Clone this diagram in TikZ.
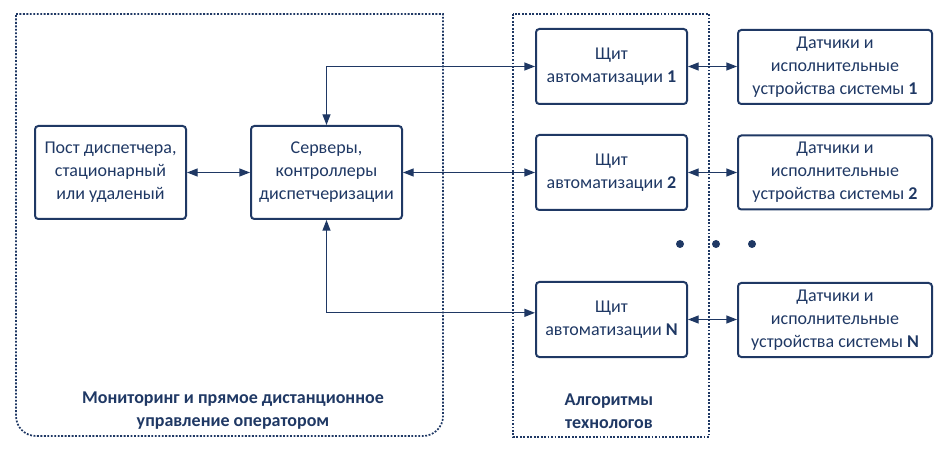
\documentclass[tikz,border=0pt]{standalone}
\usepackage{fontspec}
\setmainfont{Carlito}
\usepackage{xcolor}
\usepackage{tikz}
\definecolor{navy}{RGB}{31,56,100}
\tikzstyle{box} = [draw=navy, line width=1.5pt, rounded corners=2.5pt, align=center, text=navy, minimum width=113.25pt, minimum height=69.75pt]
\tikzstyle{shield} = [box, minimum height=56.25pt]
\tikzstyle{sensor} = [box, minimum width=145.5pt, minimum height=55.5pt]
\tikzstyle{zone} = [draw=navy, line width=1.3pt, dash pattern=on 1.4pt off 1.2pt]
\tikzstyle{link} = [draw=navy, line width=1pt]
\usetikzlibrary{arrows.meta}

\begin{document}
\begin{tikzpicture}[x=0.75pt, y=-0.75pt, >={Triangle[length=8pt,width=6pt]}]
  \tikzstyle{every node}=[font=\fontsize{13.5}{17.25}\selectfont]
  \useasboundingbox (0,0) rectangle (947,456);

  % zones
  \draw[zone] (16,14) -- (443,14) [rounded corners=15pt] -- (443,436) -- (16,436) [sharp corners] -- cycle;
  \draw[zone] (513,14) rectangle (709,437);

  \node[box] (post) at (110.5,172.5) {Пост диспетчера,\\стационарный\\или удаленый};
  \node[box] (srv) at (326.5,172.5) {Серверы,\\контроллеры\\диспетчеризации};

  \node[shield] (shield1) at (611.5,66.5) {Щит\\автоматизации \textbf{1}};
  \node[shield] (shield2) at (611.5,172.5) {Щит\\автоматизации \textbf{2}};
  \node[shield] (shieldN) at (611.5,319.5) {Щит\\автоматизации \textbf{N}};

  \node[sensor] (sens1) at (835,67) {Датчики и\\исполнительные\\устройства системы \textbf{1}};
  \node[sensor] (sens2) at (835,172.5) {Датчики и\\исполнительные\\устройства системы \textbf{2}};
  \node[sensor] (sensN) at (835,320) {Датчики и\\исполнительные\\устройства системы \textbf{N}};

  \node[text=navy, align=center, font=\fontsize{13.5}{17.25}\selectfont\bfseries] (zoneL) at (233,411) {Мониторинг и прямое дистанционное\\управление оператором};
  \node[text=navy, align=center, font=\fontsize{13.5}{17.25}\selectfont\bfseries] (zoneM) at (609,411) {Алгоритмы\\технологов};

  % links
  \draw[link, <->] (post) -- (srv);
  \draw[link, <->] (srv) -- (shield2);
  \draw[link, <->] (shield1.west) -| (srv.north);
  \draw[link, <->] ([yshift=5pt]shieldN.west) -| (srv.south);
  \draw[link, <->] (shield1.east) -- (shield1.east -| sens1.west);
  \draw[link, <->] (shield2.east) -- (shield2.east -| sens2.west);
  \draw[link, <->] (shieldN.east) -- (shieldN.east -| sensN.west);

  \foreach \x in {680,716,752}
    \fill[navy] (\x,244) circle (3pt);
\end{tikzpicture}
\end{document}
